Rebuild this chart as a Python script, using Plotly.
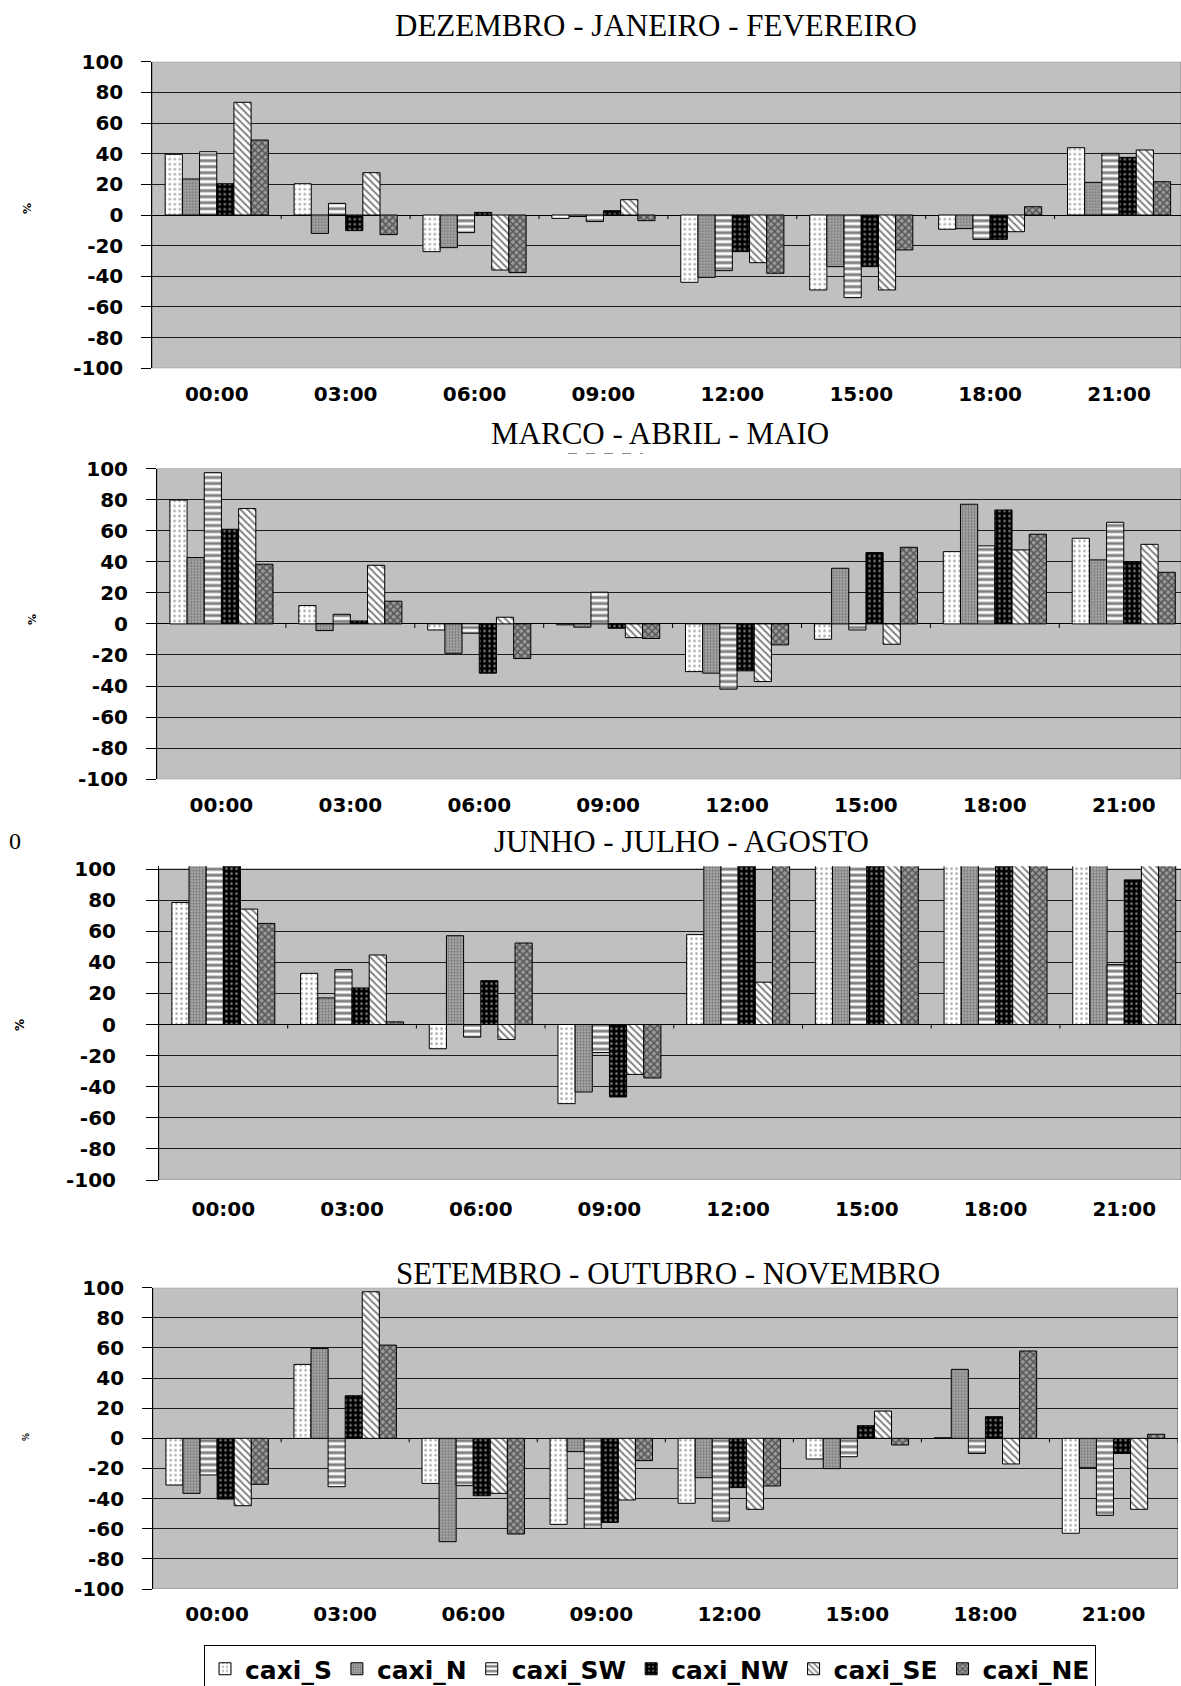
import plotly.graph_objects as go

# ---------------------------------------------------------------- data
hours = ["00:00", "03:00", "06:00", "09:00", "12:00", "15:00", "18:00", "21:00"]
series_names = ["caxi_S", "caxi_N", "caxi_SW", "caxi_NW", "caxi_SE", "caxi_NE"]
y_tick_values = [-100, -80, -60, -40, -20, 0, 20, 40, 60, 80, 100]
y_tick_labels = ["-100", "-80", "-60", "-40", "-20", "0", "20", "40", "60", "80", "100"]

panel_titles = [
    "DEZEMBRO - JANEIRO - FEVEREIRO",
    "MARCO - ABRIL - MAIO",
    "JUNHO - JULHO - AGOSTO",
    "SETEMBRO - OUTUBRO - NOVEMBRO",
]

# Dezembro - Janeiro - Fevereiro (%)
djf_S = [39.6, 20.4, -23.9, -2.2, -43.9, -48.9, -9.3, 43.9]
djf_N = [23.5, -12.0, -21.3, -1.0, -40.7, -33.7, -8.9, 21.3]
djf_SW = [41.3, 7.6, -11.5, -4.3, -36.3, -53.9, -15.9, 40.2]
djf_NW = [20.4, -10.2, 1.7, 2.8, -23.9, -33.7, -15.9, 37.6]
djf_SE = [73.5, 27.6, -35.9, 10.0, -31.1, -48.9, -10.9, 42.4]
djf_NE = [48.9, -12.8, -37.6, -3.7, -38.0, -22.8, 5.4, 21.7]

# Marco - Abril - Maio (%)
mam_S = [79.7, 11.8, -3.9, -0.6, -30.7, -9.9, 46.5, 55.1]
mam_N = [42.7, -4.3, -18.9, -2.1, -31.7, 35.8, 77.0, 41.2]
mam_SW = [97.3, 6.2, -6.0, 20.4, -42.0, -3.9, 50.2, 65.4]
mam_NW = [60.9, 1.9, -31.7, -2.8, -30.2, 45.9, 73.3, 40.1]
mam_SE = [74.2, 37.7, 4.3, -8.8, -37.1, -13.1, 47.6, 51.2]
mam_NE = [38.4, 14.6, -22.3, -9.4, -13.5, 49.3, 57.7, 33.2]

# Junho - Julho - Agosto (%) -- several bars run past the top of the axis
jja_S = [78.5, 32.9, -15.6, -50.9, 57.8, 112.0, 115.0, 108.0]
jja_N = [120.0, 17.1, 57.1, -43.4, 125.0, 130.0, 128.0, 122.0]
jja_SW = [118.0, 35.3, -8.1, -18.0, 121.0, 124.0, 119.0, 38.5]
jja_NW = [116.0, 23.5, 28.2, -46.6, 119.0, 126.0, 131.0, 93.0]
jja_SE = [74.2, 44.7, -9.6, -32.1, 27.2, 127.0, 117.0, 114.0]
jja_NE = [65.0, 1.7, 52.4, -34.4, 123.0, 129.0, 121.0, 120.0]

# Setembro - Outubro - Novembro (%)
son_S = [-31.0, 49.1, -29.9, -57.1, -43.1, -13.7, 0.4, -63.0]
son_N = [-36.5, 59.7, -68.6, -8.8, -26.1, -20.1, 45.8, -19.5]
son_SW = [-24.3, -32.1, -31.4, -59.7, -54.9, -12.2, -10.0, -51.1]
son_NW = [-40.3, 28.3, -38.1, -55.8, -32.7, 8.4, 14.4, -10.0]
son_SE = [-44.7, 97.3, -36.5, -40.9, -47.1, 18.1, -17.0, -47.1]
son_NE = [-30.5, 61.9, -63.5, -14.8, -31.6, -4.4, 58.0, 2.7]

panel_series = [
    [djf_S, djf_N, djf_SW, djf_NW, djf_SE, djf_NE],
    [mam_S, mam_N, mam_SW, mam_NW, mam_SE, mam_NE],
    [jja_S, jja_N, jja_SW, jja_NW, jja_SE, jja_NE],
    [son_S, son_N, son_SW, son_NW, son_SE, son_NE],
]

# ---------------------------------------------------------------- styles
W, H = 1181, 1686
SANS = "DejaVu Sans"
SERIF = "Liberation Serif"

fills = [
    dict(shape=".", bgcolor="white", fgcolor="#4a4a4a", size=5, solidity=0.2),    # S
    dict(shape=".", bgcolor="#a8a8a8", fgcolor="#3a3a3a", size=3, solidity=0.4),  # N
    dict(shape="-", bgcolor="white", fgcolor="black", size=6, solidity=0.5),      # SW
    dict(shape=".", bgcolor="black", fgcolor="white", size=5, solidity=0.2),      # NW
    dict(shape="\\", bgcolor="white", fgcolor="black", size=5, solidity=0.38),    # SE
    dict(shape="x", bgcolor="#9a9a9a", fgcolor="#121212", size=5, solidity=0.5),  # NE
]

# page-pixel geometry of each panel
geometry = [
    dict(left=152.3, top=61.7, bottom=368.3, cat=128.9, ymax=100.0,
         title_x=656, title_y=25, pct_x=28, pct_y=209, pct_size=11,
         ticklen=10, ystand=14, xstand=12),
    dict(left=157.0, top=468.5, bottom=779.3, cat=128.9, ymax=100.0,
         title_x=660, title_y=433, pct_x=33, pct_y=620, pct_size=11,
         ticklen=10, ystand=14, xstand=12),
    dict(left=159.0, top=869.0, bottom=1180.0, cat=128.7, ymax=101.8,
         title_x=681, title_y=841, pct_x=20, pct_y=1025, pct_size=12,
         ticklen=12, ystand=26, xstand=15),
    dict(left=153.1, top=1287.7, bottom=1589.0, cat=128.05, ymax=100.0,
         title_x=668, title_y=1273, pct_x=26, pct_y=1437, pct_size=8,
         ticklen=10, ystand=14, xstand=11),
]


def px_x(v):
    return v / W


def px_y(v):
    return 1 - v / H


fig = go.Figure()
shapes = []
annotations = []
n_cat = len(hours)

for p, (series, g, title) in enumerate(zip(panel_series, geometry, panel_titles)):
    sfx = "" if p == 0 else str(p + 1)
    xa, ya = "x" + sfx, "y" + sfx

    for name, values, fill in zip(series_names, series, fills):
        fig.add_trace(go.Bar(
            x=hours, y=values, name=name,
            xaxis=xa, yaxis=ya,
            legendgroup=name, showlegend=(p == 0),
            marker=dict(pattern=fill, line=dict(color="black", width=1)),
        ))

    right = min(g["left"] + n_cat * g["cat"], W)
    px_per_unit = (g["bottom"] - g["top"]) / 200.0
    dom_top = g["top"] - (g["ymax"] - 100.0) * px_per_unit

    fig.layout[("xaxis" + sfx)] = dict(
        domain=[px_x(g["left"]), px_x(right)],
        range=[-0.5, -0.5 + (right - g["left"]) / g["cat"]],
        anchor=ya, showgrid=False, showline=False, zeroline=False,
        ticks="", ticklabelstandoff=g["xstand"],
        tickfont=dict(family=SANS, size=20, color="black", weight="bold"),
        fixedrange=True,
    )
    fig.layout[("yaxis" + sfx)] = dict(
        domain=[px_y(g["bottom"]), px_y(dom_top)],
        range=[-100, g["ymax"]], anchor=xa,
        tickvals=y_tick_values, ticktext=y_tick_labels,
        showgrid=True, gridcolor="#1c1c1c", gridwidth=1,
        zeroline=True, zerolinecolor="black", zerolinewidth=1,
        showline=True, linecolor="black", linewidth=1,
        ticks="outside", ticklen=g["ticklen"], tickcolor="black",
        ticklabelstandoff=g["ystand"],
        tickfont=dict(family=SANS, size=20, color="black", weight="bold"),
        fixedrange=True,
    )

    # grey plot area bounded by the -100 and 100 lines
    shapes.append(dict(
        type="rect", xref=xa + " domain", yref=ya, x0=0, x1=1, y0=-100, y1=100,
        fillcolor="#c0c0c0", line=dict(color="#8a8a8a", width=1), layer="below",
    ))

    # category separators hanging below the zero line
    tick_units = 4.0 / px_per_unit
    last = n_cat if p == 3 else n_cat - 1
    for k in range(1, last + 1):
        shapes.append(dict(
            type="line", xref=xa, yref=ya, x0=k - 0.5, x1=k - 0.5,
            y0=0, y1=-tick_units, line=dict(color="black", width=1), layer="above",
        ))

    annotations.append(dict(
        text=title, xref="paper", yref="paper",
        x=px_x(g["title_x"]), y=px_y(g["title_y"]),
        xanchor="center", yanchor="middle", showarrow=False,
        font=dict(family=SERIF, size=31, color="black"),
    ))
    annotations.append(dict(
        text="%", xref="paper", yref="paper",
        x=px_x(g["pct_x"]), y=px_y(g["pct_y"]),
        xanchor="center", yanchor="middle", showarrow=False, textangle=-90,
        font=dict(family=SANS, size=g["pct_size"], color="black", weight="bold"),
    ))

# stray "0" at the left of the winter panel heading
annotations.append(dict(
    text="0", xref="paper", yref="paper", x=px_x(15), y=px_y(841),
    xanchor="center", yanchor="middle", showarrow=False,
    font=dict(family=SERIF, size=24, color="black"),
))

# faint dashed underline beneath the autumn heading
shapes.append(dict(
    type="line", xref="paper", yref="paper",
    x0=px_x(568), x1=px_x(643), y0=px_y(453.5), y1=px_y(453.5),
    line=dict(color="#8c8c8c", width=1, dash="dash"),
))

fig.update_layout(
    width=W, height=H,
    margin=dict(l=0, r=0, t=0, b=0, autoexpand=False),
    paper_bgcolor="white", plot_bgcolor="rgba(0,0,0,0)",
    barmode="group", bargap=0.2, bargroupgap=0.0,
    shapes=shapes, annotations=annotations,
    showlegend=True,
    legend=dict(
        orientation="h", x=px_x(650), xanchor="center",
        y=px_y(1645), yanchor="top",
        bordercolor="black", borderwidth=1, bgcolor="white",
        font=dict(family=SANS, size=25, color="black", weight="bold"),
        traceorder="normal", itemclick=False, itemdoubleclick=False,
        tracegroupgap=0, valign="middle",
    ),
)

fig.write_html("out.html")
